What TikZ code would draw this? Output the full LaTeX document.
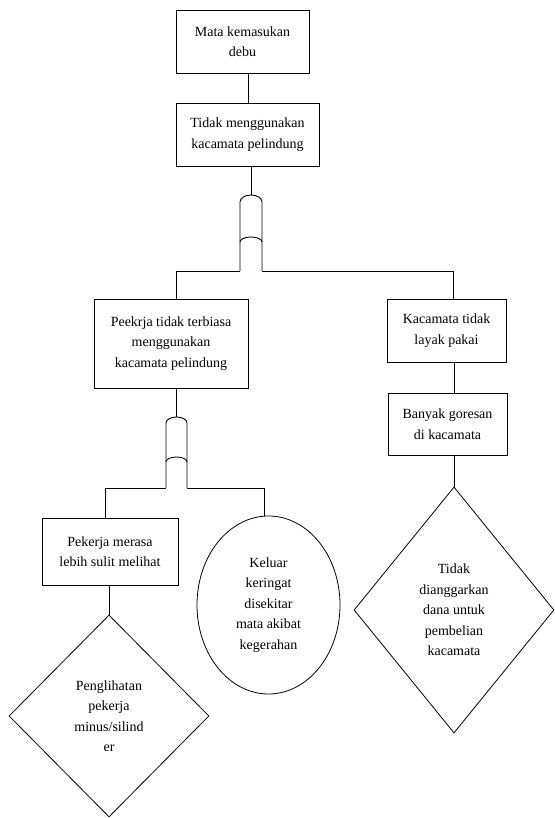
\documentclass[tikz,border=0pt]{standalone}
\usepackage{fontspec}
\setmainfont{Liberation Serif}
\usetikzlibrary{shapes.geometric}
\begin{document}
\begin{tikzpicture}[x=1pt,y=1pt,
  every node/.style={font=\fontsize{14}{20.5}\selectfont, align=center, inner sep=0pt},
  boxnode/.style={draw, rectangle, line width=0.9pt},
  diamnode/.style={draw, diamond, line width=0.8pt},
  ellnode/.style={draw, ellipse, line width=0.8pt},
  line width=0.9pt]
\useasboundingbox (0,0) rectangle (554,818);
\fill[white] (0,0) rectangle (554,818);

% boxes
\node[boxnode, minimum width=133, minimum height=63] (b1) at (242.5,776.5) {Mata kemasukan\\debu};
\node[boxnode, minimum width=143, minimum height=63] (b2) at (247.5,683.5) {Tidak menggunakan\\kacamata pelindung};
\node[boxnode, minimum width=154, minimum height=89] (b3) at (171,474.5) {Peekrja tidak terbiasa\\menggunakan\\kacamata pelindung};
\node[boxnode, minimum width=119, minimum height=63] (b4) at (446.5,487.5) {Kacamata tidak\\layak pakai};
\node[boxnode, minimum width=119, minimum height=62] (b5) at (447.5,394) {Banyak goresan\\di kacamata};
\node[boxnode, minimum width=136, minimum height=67] (b6) at (110,266.5) {Pekerja merasa\\lebih sulit melihat};
\node[ellnode, minimum width=143, minimum height=178] (el) at (268.5,213) {Keluar\\keringat\\disekitar\\mata akibat\\kegerahan};
\node[diamnode, minimum width=200, minimum height=202] (d1) at (109,102) {Penglihatan\\pekerja\\minus/silind\\er};
\node[diamnode, minimum width=200, minimum height=246] (d2) at (454,208) {Tidak\\dianggarkan\\dana untuk\\pembelian\\kacamata};

% helper coordinates
\coordinate (c12) at (248,0);
\coordinate (c3) at (176,0);
\coordinate (c4) at (453,0);
\coordinate (c45) at (454,0);
\coordinate (c6) at (105,0);
\coordinate (c7) at (264,0);

% gate 1
\coordinate (g1top) at (251,623);
\coordinate (g1l) at (240,547);
\coordinate (g1r) at (262,547);
\draw (b2.south -| g1top) -- (g1top);
\draw (g1l) -- (240,616) arc[start angle=180, end angle=0, x radius=11, y radius=7] -- (g1r);
\draw (240,576) arc[start angle=180, end angle=0, x radius=11, y radius=5];

% gate 2
\coordinate (g2top) at (176.5,401);
\coordinate (g2l) at (166,330);
\coordinate (g2r) at (187,330);
\draw (b3.south -| g2top) -- (g2top);
\draw (g2l) -- (166,395) arc[start angle=180, end angle=0, x radius=10.5, y radius=6] -- (g2r);
\draw (166,356) arc[start angle=180, end angle=0, x radius=10.5, y radius=5];

% connectors
\draw (b1.south -| c12) -- (b2.north -| c12);
\draw (g1l) -| (b3.north -| c3);
\draw (g1r) -| (b4.north -| c4);
\draw (b4.south -| c45) -- (b5.north -| c45);
\draw (b5.south -| d2.north) -- (d2.north);
\draw (g2l) -| (b6.north -| c6);
\draw (g2r) -| (el.north -| c7);
\draw (b6.south -| d1.north) -- (d1.north);
\end{tikzpicture}
\end{document}
